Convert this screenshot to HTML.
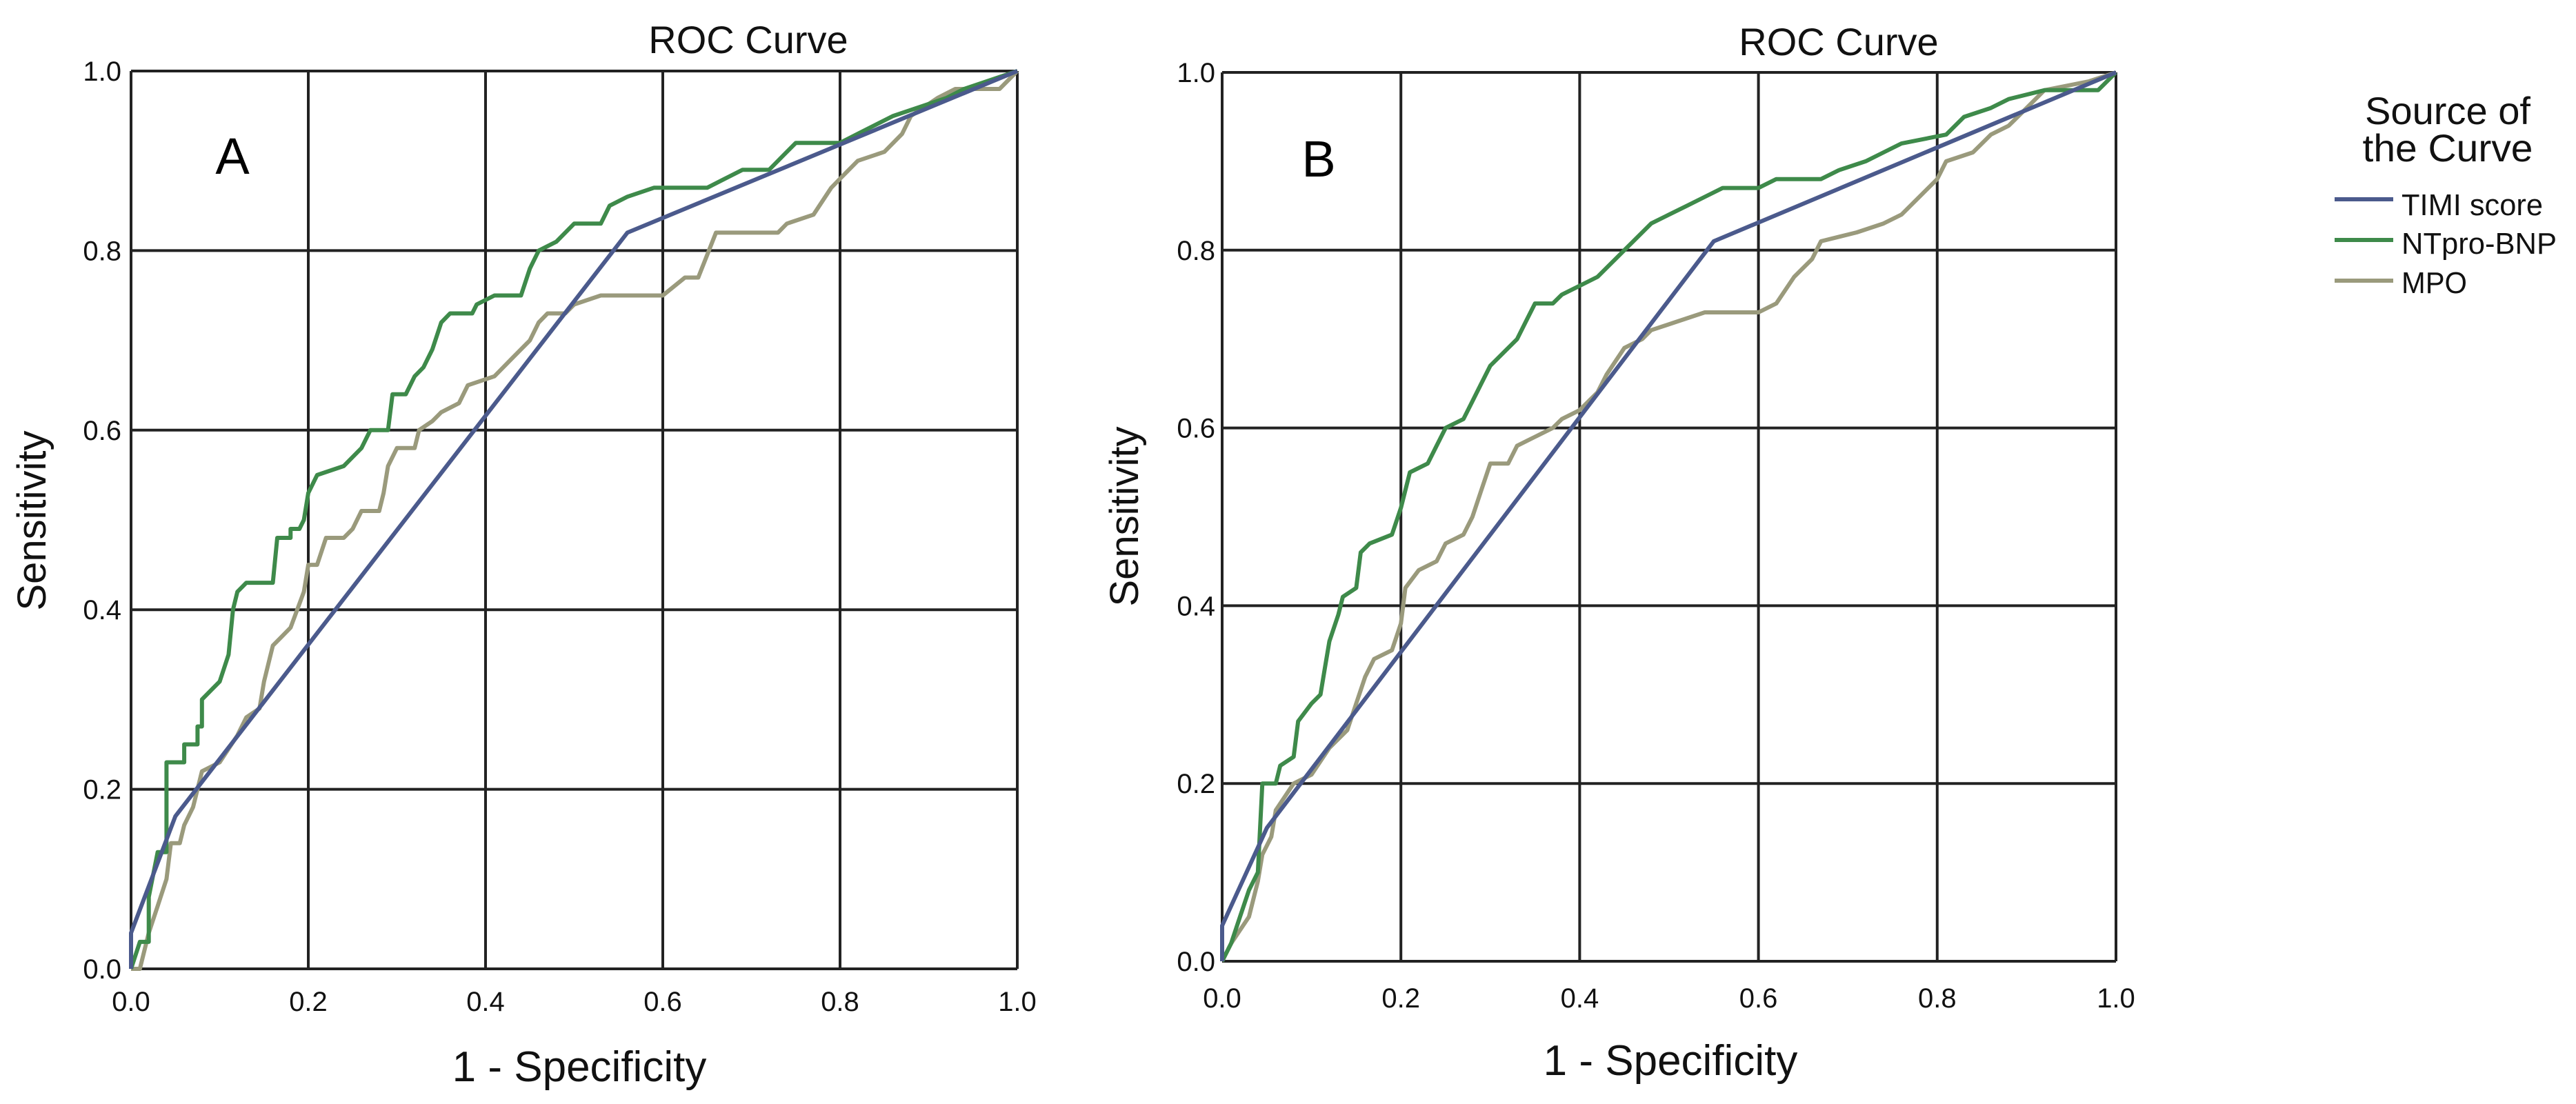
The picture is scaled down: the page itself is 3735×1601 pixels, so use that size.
<!DOCTYPE html>
<html><head><meta charset="utf-8"><style>
html,body{margin:0;padding:0;background:#fff;}
svg{display:block;font-family:"Liberation Sans",sans-serif;}
</style></head><body>
<svg id="chart" width="3735" height="1601" viewBox="0 0 3735 1601" xmlns="http://www.w3.org/2000/svg">
<rect width="3735" height="1601" fill="#fff"/>
<g id="panelA"></g>
<g id="panelB"></g>
<g>
  <text x="3549" y="180" font-size="56" text-anchor="middle" textLength="240" lengthAdjust="spacingAndGlyphs" fill="#111">Source of</text>
  <text x="3549" y="234" font-size="56" text-anchor="middle" textLength="247" lengthAdjust="spacingAndGlyphs" fill="#111">the Curve</text>
  <line x1="3385" y1="289" x2="3470" y2="289" stroke="#4b5a8c" stroke-width="6"/>
  <text x="3482" y="312" font-size="44" textLength="205" lengthAdjust="spacingAndGlyphs" fill="#111">TIMI score</text>
  <line x1="3385" y1="348" x2="3470" y2="348" stroke="#3e8a4a" stroke-width="6"/>
  <text x="3482" y="368" font-size="44" textLength="225" lengthAdjust="spacingAndGlyphs" fill="#111">NTpro-BNP</text>
  <line x1="3385" y1="407" x2="3470" y2="407" stroke="#9a9a7c" stroke-width="6"/>
  <text x="3482" y="425" font-size="44" textLength="95" lengthAdjust="spacingAndGlyphs" fill="#111">MPO</text>
</g>
</svg>
<script>
const ticks = [0, 0.2, 0.4, 0.6, 0.8, 1.0];
const tickLabels = ["0.0","0.2","0.4","0.6","0.8","1.0"];

const aTimiX = [0, 0, 0.05, 0.56, 1];
const aTimiY = [0, 0.04, 0.17, 0.82, 1];
const aBnpX = [0,0.01,0.02,0.02,0.03,0.04,0.04,0.06,0.06,0.075,0.075,0.08,0.08,0.09,0.10,0.11,0.115,0.12,0.13,0.16,0.165,0.18,0.18,0.19,0.195,0.20,0.21,0.24,0.26,0.27,0.29,0.295,0.31,0.32,0.33,0.34,0.35,0.36,0.385,0.39,0.41,0.44,0.45,0.46,0.48,0.50,0.53,0.54,0.56,0.59,0.65,0.67,0.69,0.72,0.74,0.75,0.80,0.82,0.84,0.86,0.89,0.92,0.94,0.97,1];
const aBnpY = [0,0.03,0.03,0.08,0.13,0.13,0.23,0.23,0.25,0.25,0.27,0.27,0.30,0.31,0.32,0.35,0.40,0.42,0.43,0.43,0.48,0.48,0.49,0.49,0.50,0.53,0.55,0.56,0.58,0.60,0.60,0.64,0.64,0.66,0.67,0.69,0.72,0.73,0.73,0.74,0.75,0.75,0.78,0.80,0.81,0.83,0.83,0.85,0.86,0.87,0.87,0.88,0.89,0.89,0.91,0.92,0.92,0.93,0.94,0.95,0.96,0.97,0.98,0.99,1];
const aMpoX = [0,0.01,0.02,0.03,0.04,0.045,0.055,0.06,0.07,0.08,0.10,0.12,0.13,0.145,0.15,0.16,0.17,0.18,0.195,0.20,0.21,0.22,0.24,0.25,0.26,0.28,0.285,0.29,0.30,0.32,0.325,0.34,0.35,0.37,0.38,0.41,0.43,0.45,0.46,0.47,0.49,0.50,0.53,0.60,0.625,0.64,0.66,0.73,0.74,0.77,0.79,0.80,0.82,0.85,0.87,0.88,0.91,0.93,0.98,0.99,1];
const aMpoY = [0,0,0.04,0.07,0.10,0.14,0.14,0.16,0.18,0.22,0.23,0.26,0.28,0.29,0.32,0.36,0.37,0.38,0.42,0.45,0.45,0.48,0.48,0.49,0.51,0.51,0.53,0.56,0.58,0.58,0.60,0.61,0.62,0.63,0.65,0.66,0.68,0.70,0.72,0.73,0.73,0.74,0.75,0.75,0.77,0.77,0.82,0.82,0.83,0.84,0.87,0.88,0.90,0.91,0.93,0.95,0.97,0.98,0.98,0.99,1];

const bTimiX = [0, 0, 0.05, 0.55, 1];
const bTimiY = [0, 0.04, 0.15, 0.81, 1];
const bBnpX = [0,0.01,0.02,0.03,0.04,0.045,0.06,0.065,0.08,0.085,0.10,0.11,0.115,0.12,0.13,0.135,0.15,0.155,0.165,0.19,0.20,0.21,0.23,0.24,0.25,0.27,0.28,0.29,0.30,0.31,0.33,0.34,0.35,0.37,0.38,0.40,0.42,0.44,0.45,0.46,0.48,0.50,0.52,0.54,0.56,0.60,0.62,0.67,0.69,0.72,0.74,0.76,0.81,0.83,0.86,0.88,0.92,0.98,1];
const bBnpY = [0,0.02,0.05,0.08,0.10,0.20,0.20,0.22,0.23,0.27,0.29,0.30,0.33,0.36,0.39,0.41,0.42,0.46,0.47,0.48,0.51,0.55,0.56,0.58,0.60,0.61,0.63,0.65,0.67,0.68,0.70,0.72,0.74,0.74,0.75,0.76,0.77,0.79,0.80,0.81,0.83,0.84,0.85,0.86,0.87,0.87,0.88,0.88,0.89,0.90,0.91,0.92,0.93,0.95,0.96,0.97,0.98,0.98,1];
const bMpoX = [0,0.01,0.03,0.04,0.045,0.055,0.06,0.08,0.10,0.12,0.14,0.15,0.16,0.17,0.19,0.20,0.205,0.22,0.24,0.25,0.27,0.28,0.29,0.30,0.32,0.33,0.35,0.37,0.38,0.40,0.42,0.43,0.45,0.47,0.48,0.51,0.54,0.60,0.62,0.64,0.66,0.67,0.71,0.74,0.76,0.78,0.80,0.81,0.84,0.86,0.88,0.90,0.92,0.97,1];
const bMpoY = [0,0.02,0.05,0.09,0.12,0.14,0.17,0.20,0.21,0.24,0.26,0.29,0.32,0.34,0.35,0.38,0.42,0.44,0.45,0.47,0.48,0.50,0.53,0.56,0.56,0.58,0.59,0.60,0.61,0.62,0.64,0.66,0.69,0.70,0.71,0.72,0.73,0.73,0.74,0.77,0.79,0.81,0.82,0.83,0.84,0.86,0.88,0.90,0.91,0.93,0.94,0.96,0.98,0.99,1];

const NS = "http://www.w3.org/2000/svg";
function mk(parent, tag, attrs, text) {
  const e = document.createElementNS(NS, tag);
  for (const k in attrs) e.setAttribute(k, attrs[k]);
  if (text !== undefined) e.textContent = text;
  parent.appendChild(e);
  return e;
}

function drawPanel(g, cfg, series) {
  const xs = v => cfg.left + v * (cfg.right - cfg.left);
  const ys = v => cfg.bottom - v * (cfg.bottom - cfg.top);
  ticks.forEach((t, i) => {
    const vl = mk(g, "line", {x1: xs(t), y1: cfg.top, x2: xs(t), y2: cfg.bottom, stroke: "#222", "stroke-width": 4});
    
    
    const hl = mk(g, "line", {x1: cfg.left, y1: ys(t), x2: cfg.right, y2: ys(t), stroke: "#222", "stroke-width": 4});
    
    
    const xl = mk(g, "text", {x: xs(t), y: cfg.xLabelY, "font-size": 40, "text-anchor": "middle", fill: "#111"}, tickLabels[i]);
    
    
    const yl = mk(g, "text", {x: cfg.yLabelX, y: ys(t) + 14, "font-size": 40, "text-anchor": "end", fill: "#111"}, tickLabels[i]);
    
    
  });
  series.forEach(s => {
    const pts = s.x.map((v, i) => xs(v).toFixed(1) + "," + ys(s.y[i]).toFixed(1)).join(" ");
    const pl = mk(g, "polyline", {points: pts, fill: "none", stroke: s.color, "stroke-width": 6, "stroke-linejoin": "round"});
    
    
  });
  const tt = mk(g, "text", {x: cfg.titleX, y: cfg.titleY, "font-size": 56, "text-anchor": "middle", fill: "#111"}, "ROC Curve");
  
  
  const xt = mk(g, "text", {x: cfg.xTitleX, y: cfg.xTitleY, "font-size": 62, "text-anchor": "middle", fill: "#111"}, "1 - Specificity");
  
  
  const yt = mk(g, "text", {x: 0, y: 0, "font-size": 58, "text-anchor": "middle", fill: "#111", transform: `translate(${cfg.yTitleX},${cfg.yTitleY}) rotate(-90)`}, "Sensitivity");
  
  
  const pl = mk(g, "text", {x: cfg.letterX, y: cfg.letterY, "font-size": 74, "text-anchor": "middle", fill: "#000"}, cfg.letter);
  
  
}

drawPanel(document.getElementById("panelA"),
  {left: 190, right: 1475, top: 103, bottom: 1405, xLabelY: 1466, yLabelX: 176,
   titleX: 1085, titleY: 77, xTitleX: 840, xTitleY: 1568, yTitleX: 66, yTitleY: 755,
   letter: "A", letterX: 337, letterY: 252},
  [{name: "mpo-curve-a", x: aMpoX, y: aMpoY, color: "#9a9a7c"},
   {name: "ntprobnp-curve-a", x: aBnpX, y: aBnpY, color: "#3e8a4a"},
   {name: "timi-curve-a", x: aTimiX, y: aTimiY, color: "#4b5a8c"}]);

drawPanel(document.getElementById("panelB"),
  {left: 1772, right: 3068, top: 105, bottom: 1394, xLabelY: 1461, yLabelX: 1762,
   titleX: 2666, titleY: 80, xTitleX: 2422, xTitleY: 1559, yTitleX: 1650, yTitleY: 749,
   letter: "B", letterX: 1912, letterY: 256},
  [{name: "mpo-curve-b", x: bMpoX, y: bMpoY, color: "#9a9a7c"},
   {name: "ntprobnp-curve-b", x: bBnpX, y: bBnpY, color: "#3e8a4a"},
   {name: "timi-curve-b", x: bTimiX, y: bTimiY, color: "#4b5a8c"}]);
</script>
</body></html>
